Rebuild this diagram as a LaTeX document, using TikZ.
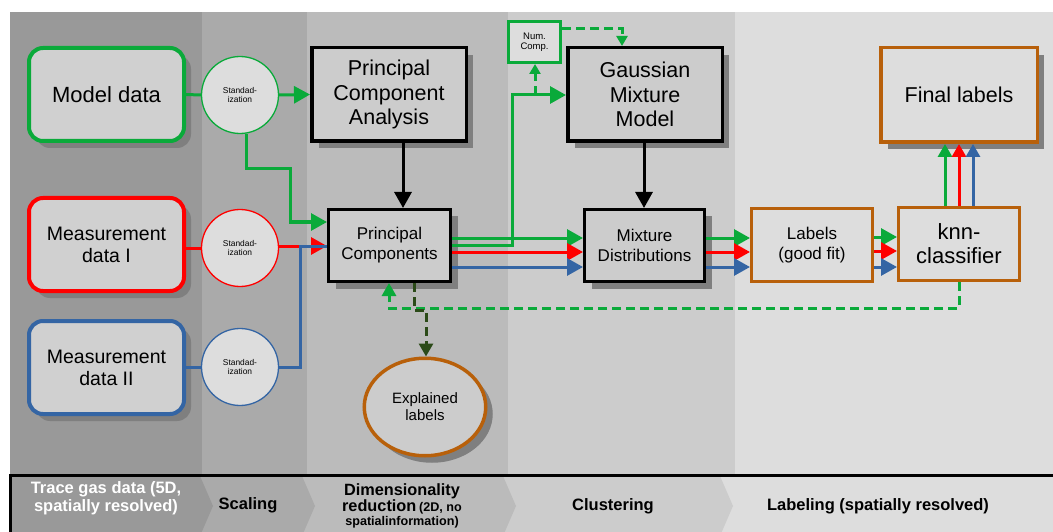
\documentclass[tikz,border=0pt]{standalone}
\usepackage{fontspec}
\setmainfont{Liberation Sans}
\usetikzlibrary{arrows.meta,shadows,shapes.geometric}
\definecolor{cgreen}{HTML}{0AAA3A}
\definecolor{cred}{HTML}{FF0000}
\definecolor{cblue}{HTML}{3465A4}
\definecolor{corange}{HTML}{B8600A}
\definecolor{cdkgreen}{HTML}{2B4A18}
\definecolor{cshadow}{HTML}{7F7F7F}
\definecolor{colA}{HTML}{999999}
\definecolor{colB}{HTML}{AAAAAA}
\definecolor{colC}{HTML}{BBBBBB}
\definecolor{colD}{HTML}{CCCCCC}
\definecolor{colE}{HTML}{DDDDDD}
\definecolor{fillA}{HTML}{D0D0D0}
\newcommand\dimredtext{\vbox{\baselineskip=14.4pt\lineskiplimit=-20pt\lineskip=0pt\relax
  \halign{\hfil##\hfil\cr
  {\fontsize{16.3}{14.4}\selectfont Dimensionality}\cr
  \noalign{\vskip1.2pt}
  {\fontsize{16.3}{14.4}\selectfont reduction} {\fontsize{12.6}{14.4}\selectfont (2D, no}\cr
  {\fontsize{12.6}{14.4}\selectfont spatialinformation)}\cr}}}
\tikzset{
  shadowed/.style={drop shadow={shadow xshift=7pt,shadow yshift=-7pt,fill=cshadow,opacity=1}},
  databox/.style={rounded corners=14pt, fill=fillA, line width=4pt, minimum width=155pt, minimum height=93pt, inner sep=0pt, align=center, shadowed},
  stdcircle/.style={circle, fill=colE, line width=1.3pt, minimum size=77pt, inner sep=0pt, align=center, font=\fontsize{8.4}{9.8}\selectfont},
  blackbox/.style={draw=black, fill=colD, line width=3.5pt, inner sep=0pt, align=center, shadowed},
  orbox/.style={draw=corange, fill=colE, line width=3pt, inner sep=0pt, align=center},
  bigfont/.style={font=\fontsize{21.5}{24.5}\selectfont},
  midfont/.style={font=\fontsize{17}{20}\selectfont},
  tipbig/.style={-{Triangle[length=16pt,width=17pt]}},
  tipmid/.style={-{Triangle[length=13pt,width=14pt]}},
  tipsmall/.style={-{Triangle[length=10pt,width=11pt]}},
  gline/.style={draw=cgreen, line width=3pt},
  rline/.style={draw=cred, line width=3pt},
  bline/.style={draw=cblue, line width=3pt},
  kline/.style={draw=black, line width=3pt},
  gdash/.style={draw=cgreen, line width=3pt, dash pattern=on 9pt off 5pt},
  ddash/.style={draw=cdkgreen, line width=3pt, dash pattern=on 9pt off 5pt},
  bandtext/.style={font=\bfseries\fontsize{16.5}{18}\selectfont, align=center}
}
\begin{document}
\begin{tikzpicture}[x=1pt,y=-1pt]
\useasboundingbox (0,0) rectangle (1053,532);
\clip (0,0) rectangle (1053,532);
\fill[white] (0,0) rectangle (1053,532);
% column backgrounds
\fill[colA] (10,12) rectangle (202,476);
\fill[colB] (202,12) rectangle (307,476);
\fill[colC] (307,12) rectangle (508,476);
\fill[colD] (508,12) rectangle (735,476);
\fill[colE] (735,12) rectangle (1053,476);
% bottom band chevrons
\fill[colE] (10,476) rectangle (1053,540);
\fill[colD] (10,476) -- (720,476) -- (733,506) -- (720,536) -- (10,536) -- cycle;
\fill[colC] (10,476) -- (503,476) -- (516,506) -- (503,536) -- (10,536) -- cycle;
\fill[colB] (10,476) -- (302,476) -- (315,506) -- (302,536) -- (10,536) -- cycle;
\fill[colA] (10,476) -- (200,476) -- (213,506) -- (200,536) -- (10,536) -- cycle;
\draw[line width=3pt] (10,540) -- (10,475) -- (1060,475);
\node[bandtext, text=white] (bt1) at (106,498) {Trace gas data (5D,\\spatially resolved)};
\node[bandtext] (bt2) at (248,505) {Scaling};
\node[font=\bfseries, inner sep=0pt, anchor=base] (bt3) at (402,525.7) {\dimredtext};
\node[bandtext] (bt4) at (613,506) {Clustering};
\node[bandtext] (bt5) at (878,506) {Labeling (spatially resolved)};

% data boxes
\node[databox, draw=cgreen, font=\fontsize{22}{24}\selectfont] (mod) at (106.5,94.5) {Model data};
\node[databox, draw=cred, font=\fontsize{19.5}{22}\selectfont] (m1) at (106.5,244.5) {Measurement\\data I};
\node[databox, draw=cblue, font=\fontsize{19.5}{22}\selectfont] (m2) at (106.5,367.5) {Measurement\\data II};
% standardization circles
\node[stdcircle, draw=cgreen] (c0) at (240,95) {Standad-\\ization};
\node[stdcircle, draw=cred] (c1) at (240,248) {Standad-\\ization};
\node[stdcircle, draw=cblue] (c2) at (240,367) {Standad-\\ization};
% main boxes
\node[blackbox, bigfont, minimum width=154.5pt, minimum height=93.5pt] (pca) at (389,94.5) {Principal\\Component\\Analysis};
\node[blackbox, midfont, line width=3pt, minimum width=122pt, minimum height=72pt] (pc) at (389.5,245.5) {Principal\\Components};
\node[draw=cgreen, fill=colE, line width=3pt, minimum width=52pt, minimum height=41pt, inner sep=0pt, align=center, font=\fontsize{9.5}{10.5}\selectfont] (nc) at (534.5,42) {Num.\\Comp.};
\node[blackbox, bigfont, minimum width=154.5pt, minimum height=93.5pt] (gmm) at (645,94.5) {Gaussian\\Mixture\\Model};
\node[blackbox, midfont, line width=3pt, minimum width=120pt, minimum height=72pt] (md) at (644.5,245.5) {Mixture\\Distributions};
\node[orbox, midfont, minimum width=121pt, minimum height=73pt] (lab) at (812,245) {Labels\\(good fit)};
\node[orbox, font=\fontsize{22}{24}\selectfont, minimum width=121pt, minimum height=73pt] (knn) at (959,244) {knn-\\classifier};
\node[orbox, shadowed, line width=3.5pt, bigfont, minimum width=156.5pt, minimum height=94.5pt] (fin) at (959,95) {Final labels};
\node[ellipse, draw=corange, fill=colD, line width=3.5pt, minimum width=121.5pt, minimum height=97.5pt, inner sep=0pt, align=center, font=\fontsize{15}{17}\selectfont, shadowed] (exp) at (425,407) {Explained\\labels};

% connectors: inputs
\draw[gline] (mod.east) -- (c0.west);
\draw[gline, tipbig] (c0.east) -- (pca.west);
\draw[gline, tipbig] (c0.-80) -- (c0.-80 |- 0,169) -- (290,169) -- (290,222) -- (pc.west |- 0,222);
\draw[rline] (m1.east |- c1.west) -- (c1.west);
\draw[rline, tipbig] (c1.east |- 0,246) -- (pc.west |- 0,246);
\draw[bline] (m2.east |- c2.west) -- (c2.west);
\draw[bline] (c2.east) -- (300,367) -- (300,246) -- (pc.west |- 0,246);
% PCA -> PC, GMM -> MD
\draw[kline, tipbig] (pca.south -| 403,0) -- (pc.north -| 403,0);
\draw[kline, tipbig] (gmm.south -| 644,0) -- (md.north -| 644,0);
% PC -> MD
\draw[gline, tipbig] (pc.east |- 0,238) -- (md.west |- 0,238);
\draw[gline, tipbig] (pc.east |- 0,245) -- (512,245) -- (512,95) -- (gmm.west |- 0,95);
\draw[rline, tipbig] (pc.east |- 0,252) -- (md.west |- 0,252);
\draw[bline, tipbig] (pc.east |- 0,267) -- (md.west |- 0,267);
% Num comp
\coordinate (jn) at (535,95);
\draw[gdash, tipsmall] (jn) -- (nc.south -| jn);
\draw[gdash, tipsmall] (nc.east |- 0,29) -- (622,29) -- (gmm.north -| 622,0);
% MD -> Labels
\draw[gline, tipbig] (md.east |- 0,238) -- (lab.west |- 0,238);
\draw[rline, tipbig] (md.east |- 0,252) -- (lab.west |- 0,252);
\draw[bline, tipbig] (md.east |- 0,267) -- (lab.west |- 0,267);
% Labels -> knn
\draw[gline, tipbig] (lab.east |- 0,237) -- (knn.west |- 0,237);
\draw[rline, tipbig] (lab.east |- 0,251) -- (knn.west |- 0,251);
\draw[bline, tipbig] (lab.east |- 0,267) -- (knn.west |- 0,267);
% knn -> Final
\draw[gline, tipmid] (knn.north -| 945,0) -- (fin.south -| 945,0);
\draw[rline, tipmid] (knn.north -| 959,0) -- (fin.south -| 959,0);
\draw[bline, tipmid] (knn.north -| 973,0) -- (fin.south -| 973,0);
% feedback knn -> PC
\draw[gdash, tipmid] (knn.south) -- (knn.south |- 0,308) -- (389,308) -- (pc.south -| 389,0);
% PC -> explained
\draw[ddash, tipmid] (pc.south -| 414,0) -- (414,310) -- (426,310) -- (exp.north -| 426,0);
\end{tikzpicture}
\end{document}
